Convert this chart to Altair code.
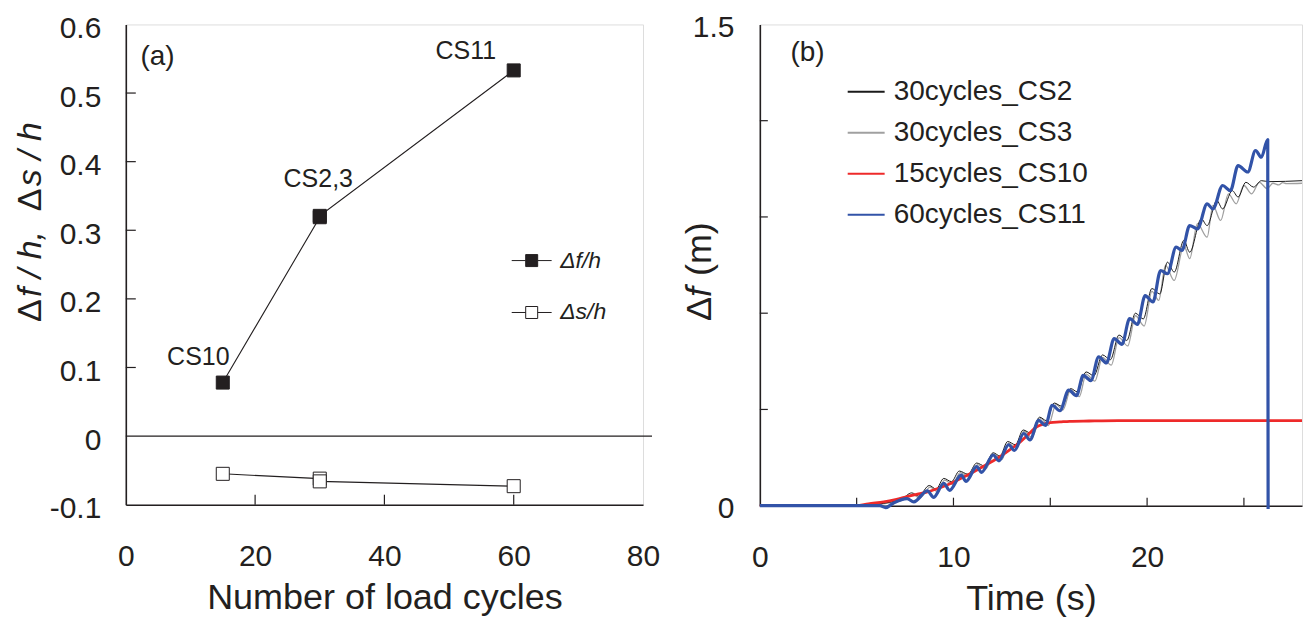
import altair as alt
import pandas as pd

FONT = "Liberation Sans"
TXT = "#231f20"

# ---------------- Panel (a) data ----------------
cycles = [15, 30, 30, 60]
df_over_h = [0.078, 0.319, 0.321, 0.533]
ds_over_h = [-0.055, -0.062, -0.066, -0.073]
series_a = ["Δf/h", "Δs/h"]
case_labels = ["CS10", "CS2,3", "CS11"]
case_cycles = [15, 30, 60]
case_values = [0.078, 0.319, 0.533]
panel_tags = ["(a)", "(b)"]

a_x_labels = [0, 20, 40, 60, 80]
a_y_labels = [-0.1, 0, 0.1, 0.2, 0.3, 0.4, 0.5, 0.6]
a_x_ticks = [20, 40, 60]
a_y_ticks = [0.1, 0.2, 0.3, 0.4, 0.5]

# y-axis titles, as (text, style) pieces so that f, h and s can be italic
a_ytitle_parts = [("Δ", "normal"), ("f / h,", "italic"), ("Δ", "normal"), ("s / h", "italic")]
b_ytitle_parts = [("Δ", "normal"), ("f", "italic"), ("(m)", "normal")]

# ---------------- Panel (b) data ----------------
series_b = ["30cycles_CS2", "30cycles_CS3", "15cycles_CS10", "60cycles_CS11"]
colors_b = ["#1a1a1a", "#a0a0a0", "#ee2a2a", "#3253a8"]
widths_b = [1.0, 1.3, 2.8, 3.2]

t_cs2 = [0, 5.0, 6.0, 6.8, 7.3, 7.85, 8.2, 8.75, 9.1, 9.5, 9.9, 10.3, 10.75, 11.2, 11.6,
         12.05, 12.4, 12.8, 13.2, 13.6, 14.0, 14.45, 14.8, 15.2, 15.6, 16.05, 16.4, 16.85,
         17.25, 17.7, 18.1, 18.55, 18.95, 19.4, 19.8, 20.25, 20.65, 21.05, 21.4, 21.9, 22.2,
         22.8, 23.1, 23.6, 23.9, 24.4, 24.7, 25.1, 25.5, 25.9, 26.3, 28.0]
v_cs2 = [0, 0, 0.004, 0.012, 0.02, 0.04, 0.03, 0.063, 0.052, 0.085, 0.075, 0.108, 0.098,
         0.133, 0.124, 0.165, 0.155, 0.2, 0.19, 0.236, 0.226, 0.276, 0.265, 0.32, 0.31,
         0.365, 0.355, 0.417, 0.405, 0.47, 0.455, 0.532, 0.515, 0.6, 0.582, 0.677, 0.66,
         0.759, 0.728, 0.827, 0.79, 0.894, 0.873, 0.951, 0.925, 0.982, 0.962, 1.008, 0.993,
         1.013, 1.01, 1.013]

t_cs3 = [0, 5.0, 6.0, 6.8, 7.3, 7.9, 8.25, 8.8, 9.15, 9.55, 9.95, 10.35, 10.8, 11.25, 11.65,
         12.1, 12.5, 12.85, 13.25, 13.65, 14.05, 14.5, 14.9, 15.3, 15.65, 16.05, 16.5, 16.85,
         17.3, 17.7, 18.15, 18.55, 19.0, 19.4, 19.85, 20.25, 20.6, 20.95, 21.4, 21.9, 22.2,
         22.6, 23.1, 23.4, 23.8, 24.2, 24.6, 25.0, 25.4, 25.8, 26.2, 26.5, 26.8, 27.0, 27.2, 28.0]
v_cs3 = [0, 0, 0.003, 0.01, 0.016, 0.035, 0.024, 0.058, 0.045, 0.08, 0.066, 0.103, 0.09,
         0.128, 0.114, 0.16, 0.144, 0.195, 0.178, 0.232, 0.213, 0.272, 0.25, 0.316, 0.298,
         0.36, 0.34, 0.41, 0.388, 0.462, 0.438, 0.524, 0.498, 0.592, 0.56, 0.668, 0.64,
         0.749, 0.702, 0.811, 0.77, 0.879, 0.837, 0.936, 0.889, 0.972, 0.941, 0.998, 0.972,
         1.008, 0.988, 1.005, 1.0, 1.007, 1.004, 1.005]

t_cs10 = [0, 5.0, 5.6, 6.4, 7.0, 7.6, 8.2, 8.7, 9.3, 9.85, 10.45, 11.05, 11.65, 12.25, 12.85,
          13.45, 13.9, 14.3, 14.7, 15.0, 15.5, 16.0, 17.0, 18.5, 20.0, 28.0]
v_cs10 = [0, 0, 0.006, 0.012, 0.019, 0.028, 0.037, 0.044, 0.056, 0.069, 0.087, 0.106, 0.126,
          0.147, 0.172, 0.199, 0.224, 0.246, 0.255, 0.259, 0.261, 0.263, 0.264, 0.265, 0.265,
          0.265]

t_cs11 = [0, 6.2, 6.5, 6.9, 7.6, 7.95, 8.65, 8.98, 9.5, 9.8, 10.4, 10.65, 11.2, 11.45, 12.05,
          12.35, 12.85, 13.15, 13.63, 13.95, 14.4, 14.75, 15.1, 15.5, 15.95, 16.35, 16.7,
          17.1, 17.5, 17.9, 18.3, 18.7, 19.1, 19.5, 19.9, 20.3, 20.7, 21.05, 21.5, 21.8, 22.2,
          22.6, 23.1, 23.4, 23.9, 24.3, 24.7, 25.2, 25.6, 25.9, 26.23, 26.25]
v_cs11 = [0, 0, -0.006, 0.008, 0.022, 0.012, 0.046, 0.026, 0.07, 0.048, 0.095, 0.076, 0.122,
          0.104, 0.158, 0.14, 0.19, 0.172, 0.225, 0.205, 0.266, 0.25, 0.313, 0.296, 0.36,
          0.343, 0.406, 0.39, 0.464, 0.445, 0.521, 0.503, 0.583, 0.565, 0.655, 0.635, 0.733,
          0.723, 0.806, 0.796, 0.873, 0.863, 0.941, 0.925, 0.998, 0.982, 1.06, 1.04, 1.107,
          1.086, 1.141, -0.01]

b_x_labels = [0, 10, 20]
b_y_labels = [0, 1.5]
b_x_ticks = [5, 10, 15, 20, 25]
b_y_ticks = [0.3, 0.6, 0.9, 1.2]

# ---------------- tables ----------------
dfa = pd.DataFrame({
    "series": [series_a[0]] * len(cycles) + [series_a[1]] * len(cycles),
    "cycles": cycles + cycles,
    "value": df_over_h + ds_over_h,
})
df_cases = pd.DataFrame({"label": case_labels, "cycles": case_cycles, "value": case_values})

b_curves = {series_b[0]: (t_cs2, v_cs2), series_b[1]: (t_cs3, v_cs3),
            series_b[2]: (t_cs10, v_cs10), series_b[3]: (t_cs11, v_cs11)}


def curve_df(name):
    ts, vs = b_curves[name]
    return pd.DataFrame({"series": [name] * len(ts), "time": ts, "disp": vs})


def rotated_title(parts, starts, base_x, size):
    layers = []
    for (txt, style), y0 in zip(parts, starts):
        layers.append(
            alt.Chart(pd.DataFrame({"t": [txt]})).mark_text(
                font=FONT, fontSize=size, fontStyle=style, color=TXT, angle=270,
                align="left", baseline="alphabetic"
            ).encode(text="t:N", x=alt.value(base_x), y=alt.value(y0)))
    return layers


common_axis = dict(ticks=False, tickSize=0, grid=False, domainColor=TXT, domainWidth=1.6,
                   labelFont=FONT, labelFontSize=30, labelColor=TXT, labelFlush=False,
                   labelOverlap=False, titleFont=FONT, titleFontSize=36,
                   titleFontWeight="normal", titleColor=TXT)

# ---------------- panel (a) ----------------
WA, HA = 518, 481
xa_scale = alt.Scale(domain=[0, 80], nice=False, zero=False)
ya_scale = alt.Scale(domain=[-0.1, 0.6], nice=False, zero=False)

xa_axis = alt.Axis(values=a_x_labels, format="d", labelPadding=37, title="Number of load cycles",
                   titleY=76, **common_axis)
ya_axis = alt.Axis(values=a_y_labels, labelPadding=25, labelOffset=4,
                   labelExpr="datum.value == 0 ? '0' : (datum.value < 0 ? '-' + format(-datum.value, '.1f') : format(datum.value, '.1f'))",
                   title=None, **common_axis)

XA = alt.X("cycles:Q", scale=xa_scale, axis=xa_axis)
YA = alt.Y("value:Q", scale=ya_scale, axis=ya_axis)

zero_a = alt.Chart(pd.DataFrame({"value": [0]})).mark_rule(color=TXT, strokeWidth=1.2).encode(
    y=YA, x=alt.value(0), x2=alt.value(WA + 9))
ytick_a = alt.Chart(pd.DataFrame({"value": a_y_ticks})).mark_rule(color=TXT, strokeWidth=1.2).encode(
    y=YA, x=alt.value(0), x2=alt.value(10))
xtick_a = alt.Chart(pd.DataFrame({"cycles": a_x_ticks})).mark_rule(color=TXT, strokeWidth=1.2).encode(
    x=XA, y=alt.value(HA), y2=alt.value(HA - 10))
lines_a = alt.Chart(dfa).mark_line(color=TXT, strokeWidth=1.1).encode(
    x=XA, y=YA, detail="series:N")

LEG_PATH = "M-2,0H-0.6M0.6,0H2M-0.6,-0.6H0.6V0.6H-0.6Z"
pts_a = alt.Chart(dfa).mark_point(shape="square", filled=True, size=170, stroke=TXT,
                                  strokeWidth=1, opacity=1).encode(
    x=XA, y=YA,
    fill=alt.Fill("series:N", scale=alt.Scale(domain=series_a, range=[TXT, "white"]),
                  legend=alt.Legend(title=None, orient="none", legendX=395, legendY=225,
                                    symbolType=LEG_PATH, symbolSize=400, symbolStrokeColor=TXT,
                                    symbolStrokeWidth=1, labelFont=FONT, labelFontSize=23,
                                    labelFontStyle="italic", labelColor=TXT, labelOffset=17,
                                    rowPadding=28, padding=0)),
)

label_offsets = [(-24.5, -25.5), (-1.5, -38.5), (-48, -19.5)]
case_layers = []
for lab, (ddx, ddy) in zip(case_labels, label_offsets):
    case_layers.append(
        alt.Chart(df_cases[df_cases["label"] == lab]).mark_text(
            font=FONT, fontSize=25, color=TXT, dx=ddx, dy=ddy, baseline="middle", align="center"
        ).encode(x=XA, y=YA, text="label:N"))

tag_a = alt.Chart(pd.DataFrame({"tag": [panel_tags[0]]})).mark_text(
    font=FONT, fontSize=28, color=TXT, baseline="middle", align="center").encode(
    text="tag:N", x=alt.value(31.7), y=alt.value(33))

title_a = rotated_title(a_ytitle_parts, [298, 273, 187, 162], -85, 34)

panel_a = alt.layer(zero_a, ytick_a, xtick_a, lines_a, pts_a, *case_layers, tag_a,
                    *title_a).properties(width=WA, height=HA)

# ---------------- panel (b) ----------------
WB, HB = 543, 482
PANEL_SHIFT = 634  # horizontal distance between the two plot areas
xb_scale = alt.Scale(domain=[0, 28], nice=False, zero=False)
yb_scale = alt.Scale(domain=[0, 1.5], nice=False, zero=False)

xb_axis = alt.Axis(values=b_x_labels, format="d", labelPadding=37, title="Time (s)", titleY=76,
                   **common_axis)
yb_axis = alt.Axis(values=b_y_labels, labelPadding=26, labelOffset=3,
                   labelExpr="datum.value == 0 ? '0' : format(datum.value, '.1f')",
                   title=None, **common_axis)

XB = alt.X("time:Q", scale=xb_scale, axis=xb_axis)
YB = alt.Y("disp:Q", scale=yb_scale, axis=yb_axis)

ytick_b = alt.Chart(pd.DataFrame({"disp": b_y_ticks})).mark_rule(color=TXT, strokeWidth=1.2).encode(
    y=YB, x=alt.value(0), x2=alt.value(8))
xtick_b = alt.Chart(pd.DataFrame({"time": b_x_ticks})).mark_rule(color=TXT, strokeWidth=1.2).encode(
    x=XB, y=alt.value(HB), y2=alt.value(HB - 8))

leg_b = alt.Legend(title=None, orient="none", legendX=88 + PANEL_SHIFT, legendY=48,
                   symbolType="stroke", symbolSize=1369, symbolStrokeWidth=2,
                   labelFont=FONT, labelFontSize=28, labelColor=TXT, labelOffset=8,
                   labelLimit=400, rowPadding=7, padding=0)
color_b = alt.Color("series:N", scale=alt.Scale(domain=series_b, range=colors_b), legend=leg_b)

# draw order: grey, black, red, blue (blue on top)
line_layers = []
for idx in [1, 0, 2, 3]:
    name = series_b[idx]
    line_layers.append(
        alt.Chart(curve_df(name)).mark_line(strokeWidth=widths_b[idx], strokeJoin="round",
                                            interpolate="monotone").encode(
            x=XB, y=YB, color=color_b))

tag_b = alt.Chart(pd.DataFrame({"tag": [panel_tags[1]]})).mark_text(
    font=FONT, fontSize=28, color=TXT, baseline="middle", align="center").encode(
    text="tag:N", x=alt.value(47.7), y=alt.value(29))

title_b = rotated_title(b_ytitle_parts, [297, 273, 252], -49, 36)

panel_b = alt.layer(ytick_b, xtick_b, *line_layers, tag_b, *title_b).properties(width=WB, height=HB)

chart = alt.hconcat(panel_a, panel_b, spacing=20).properties(
    padding={"left": 13, "top": 11, "right": 0, "bottom": 0}
).configure_view(stroke="#555555", strokeWidth=1).configure(font=FONT)

chart.save("out.html", embed_options={"renderer": "svg", "actions": False})
